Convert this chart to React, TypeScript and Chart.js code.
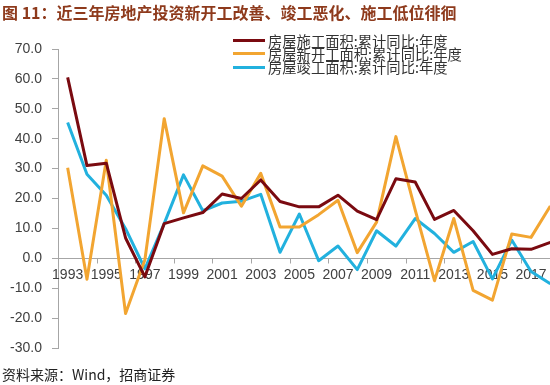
import React, { useEffect, useRef } from "react";
import { Chart, registerables } from "chart.js";

Chart.register(...registerables);

const years: string[] = [
  "1993", "1994", "1995", "1996", "1997", "1998", "1999", "2000", "2001", "2002",
  "2003", "2004", "2005", "2006", "2007", "2008", "2009", "2010", "2011", "2012",
  "2013", "2014", "2015", "2016", "2017", "2018",
];

const underConstruction: number[] = [
  60.5, 31.0, 31.8, 6.8, -6.2, 11.6, 13.5, 15.3, 21.5, 20.0,
  26.2, 19.0, 17.2, 17.2, 21.1, 15.8, 12.9, 26.6, 25.5, 13.0,
  16.0, 9.2, 1.3, 3.2, 3.0, 5.3,
];

const newStarts: number[] = [
  30.3, -7.0, 32.8, -18.5, -0.5, 46.7, 15.2, 30.9, 27.5, 17.4,
  28.4, 10.5, 10.5, 14.6, 19.4, 1.9, 12.1, 40.7, 16.2, -7.5,
  13.3, -10.7, -14.0, 8.1, 7.0, 17.5,
];

const completed: number[] = [
  45.4, 28.1, 21.1, 9.9, -3.5, 11.6, 27.9, 15.9, 18.5, 19.1,
  21.4, 2.0, 14.8, -0.8, 4.1, -3.8, 9.2, 4.1, 13.3, 8.3,
  2.0, 5.6, -6.9, 6.1, -4.4, -8.5,
];

const seriesNames: string[] = [
  "房屋施工面积:累计同比:年度",
  "房屋新开工面积:累计同比:年度",
  "房屋竣工面积:累计同比:年度",
];
const seriesColors: string[] = ["#7A0A10", "#F2A531", "#22B1DE"];

const titleText = "图 11：近三年房地产投资新开工改善、竣工恶化、施工低位徘徊";
const sourceText = "资料来源：Wind，招商证券";

const AXIS_COLOR = "#A6A6A6";
const LABEL_COLOR = "#404040";
const TICK_FONT = "14px 'Liberation Sans', Arial, sans-serif";

// Draws the category axis at the zero line (Excel style: ticks between categories,
// label every second year), using the chart's own x and y scales.
const zeroAxisPlugin = {
  id: "zeroAxis",
  beforeDatasetsDraw(chart: any) {
    const { ctx, chartArea } = chart;
    const xs = chart.scales.x;
    const ys = chart.scales.y;
    const y0 = Math.round(ys.getPixelForValue(0)) + 0.5;
    ctx.save();
    ctx.strokeStyle = AXIS_COLOR;
    ctx.lineWidth = 1;
    ctx.beginPath();
    ctx.moveTo(chartArea.left, y0);
    ctx.lineTo(chartArea.right, y0);
    for (let i = 0; i <= years.length; i += 2) {
      const bx = Math.round(xs.getPixelForValue(i - 0.5)) + 0.5;
      ctx.moveTo(bx, y0);
      ctx.lineTo(bx, y0 + 5);
    }
    ctx.stroke();
    ctx.fillStyle = LABEL_COLOR;
    ctx.font = TICK_FONT;
    ctx.textAlign = "center";
    ctx.textBaseline = "top";
    for (let i = 0; i < years.length; i += 2) {
      ctx.fillText(years[i], xs.getPixelForValue(i), y0 + 10);
    }
    ctx.restore();
  },
};

export default function App() {
  const canvasRef = useRef<HTMLCanvasElement | null>(null);

  useEffect(() => {
    if (!canvasRef.current) return;
    const allSeries = [underConstruction, newStarts, completed];
    const chart = new Chart(canvasRef.current, {
      type: "line",
      data: {
        labels: years,
        datasets: allSeries.map((d, i) => ({
          label: seriesNames[i],
          data: d,
          borderColor: seriesColors[i],
          backgroundColor: seriesColors[i],
          borderWidth: 3,
          pointRadius: 0,
          tension: 0,
          borderJoinStyle: "round" as const,
          fill: false,
        })),
      },
      options: {
        animation: false,
        responsive: false,
        maintainAspectRatio: false,
        layout: { padding: { top: 49, right: 0, bottom: 37, left: 0 } },
        plugins: {
          legend: { display: false },
          tooltip: { enabled: false },
          title: { display: false },
        },
        scales: {
          x: {
            type: "category",
            offset: true,
            display: false,
          },
          y: {
            type: "linear",
            min: -30,
            max: 70,
            grid: {
              drawOnChartArea: false,
              drawTicks: true,
              tickLength: 6,
              tickColor: AXIS_COLOR,
            },
            border: { display: true, color: AXIS_COLOR, width: 1 },
            ticks: {
              stepSize: 10,
              padding: 10,
              color: LABEL_COLOR,
              font: { family: "'Liberation Sans', Arial, sans-serif", size: 14 },
              callback: (v: any) => Number(v).toFixed(1),
            },
            afterFit: (scale: any) => {
              scale.width = 58;
            },
          },
        },
      },
      plugins: [zeroAxisPlugin],
    });
    return () => chart.destroy();
  }, []);

  return (
    <div
      style={{
        position: "fixed",
        left: 0,
        top: 0,
        width: 550,
        height: 385,
        overflow: "hidden",
        background: "#ffffff",
      }}
    >
      <canvas
        ref={canvasRef}
        width={560}
        height={385}
        style={{ position: "absolute", left: 0, top: 0, width: 560, height: 385 }}
      />
      <div
        style={{
          position: "absolute",
          left: 2,
          top: 2,
          fontFamily: "'Noto Sans CJK SC', sans-serif",
          fontWeight: 700,
          fontSize: 16,
          lineHeight: "20px",
          color: "#8E3A1C",
          whiteSpace: "nowrap",
        }}
      >
        {titleText}
      </div>
      {seriesNames.map((name, i) => (
        <div
          key={name}
          style={{
            position: "absolute",
            left: 233,
            top: 40.5 + i * 13.3 - 8,
            height: 16,
            display: "flex",
            alignItems: "center",
            whiteSpace: "nowrap",
          }}
        >
          <span
            style={{
              display: "inline-block",
              width: 32,
              height: 3,
              background: seriesColors[i],
              marginRight: 3,
            }}
          />
          <span
            style={{
              fontFamily: "'Noto Sans CJK SC', sans-serif",
              fontSize: 14.3,
              lineHeight: "16px",
              color: "#333333",
            }}
          >
            {name}
          </span>
        </div>
      ))}
      <div
        style={{
          position: "absolute",
          left: 2,
          top: 365,
          fontFamily: "'Noto Sans CJK SC', sans-serif",
          fontSize: 14,
          lineHeight: "18px",
          color: "#222222",
          whiteSpace: "nowrap",
        }}
      >
        {sourceText}
      </div>
    </div>
  );
}
